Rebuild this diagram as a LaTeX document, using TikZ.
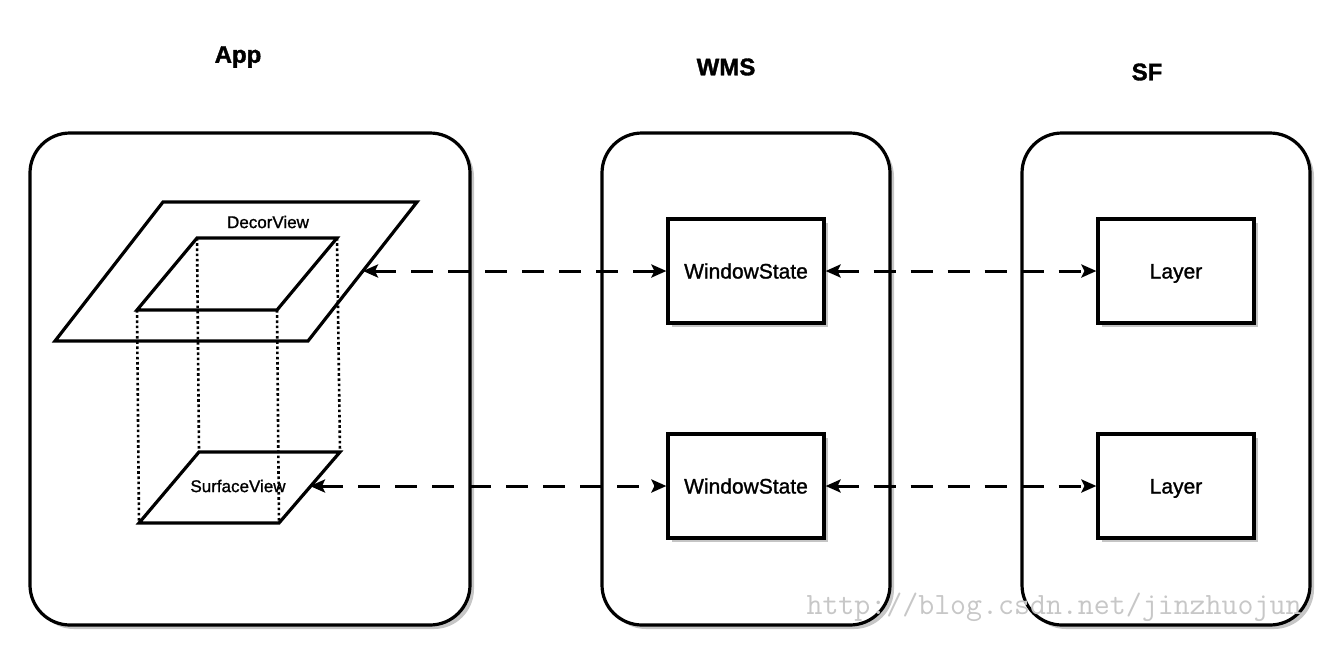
\documentclass[tikz,border=0pt]{standalone}
\usepackage{fontspec}
\setmainfont{Liberation Sans}
\newfontfamily\boxfont[FakeBold=1.2]{Liberation Sans}
\newfontfamily\titlefont[FakeBold=1.5]{Liberation Sans Bold}
\usetikzlibrary{arrows.meta,shadows}
\tikzset{
  container/.style={draw=black, line width=3.2pt, rounded corners=40pt, fill=white,
    drop shadow={shadow xshift=4pt, shadow yshift=-4pt, opacity=0.45, fill=gray}},
  statebox/.style={draw=black, line width=3.2pt, fill=white, minimum width=156pt, minimum height=104pt,
    inner sep=0pt, text height=15pt, text depth=0pt, font=\boxfont\fontsize{21}{24}\selectfont,
    drop shadow={shadow xshift=4pt, shadow yshift=-4pt, opacity=0.45, fill=gray}},
  title/.style={font=\titlefont\fontsize{24}{28}\selectfont},
  plane/.style={draw=black, line width=3.2pt, line join=miter},
  edgeline/.style={draw=black, line width=2.6pt, dash pattern=on 2.6pt off 2.6pt},
  conn/.style={line width=3pt, dash pattern=on 22pt off 15pt, {Stealth[length=15pt,width=13pt,inset=3pt]}-{Stealth[length=15pt,width=13pt,inset=3pt]}},
  lbl/.style={font=\boxfont\fontsize{17}{20}\selectfont, inner sep=0pt}
}
\begin{document}
\begin{tikzpicture}[x=1pt,y=-1pt]
\useasboundingbox (0,0) rectangle (1340,662);
% titles
\node[title] (tApp) at (238,57) {App};
\node[title] (tWMS) at (726,67) {WMS};
\node[title] (tSF) at (1147,72) {SF};
% containers
\node[container, minimum width=440pt, minimum height=492pt] (app) at (250,379) {};
\node[container, minimum width=288pt, minimum height=492pt] (wms) at (746,379) {};
\node[container, minimum width=288pt, minimum height=492pt] (sf) at (1166,379) {};
% DecorView plane (outer parallelogram)
\draw[plane] (163,202) -- (417,202) -- (308,341) -- (55,341) -- cycle;
% inner box top
\coordinate (itl) at (197,238);
\coordinate (itr) at (337,238);
\coordinate (ibr) at (277,310);
\coordinate (ibl) at (137,310);
% surface plane
\coordinate (stl) at (199,452);
\coordinate (str) at (340,452);
\coordinate (sbr) at (279,523);
\coordinate (sbl) at (139,523);
\draw[edgeline] (itl) -- (stl);
\draw[edgeline] (itr) -- (str);
\draw[edgeline] (ibr) -- (sbr);
\draw[edgeline] (ibl) -- (sbl);
\draw[plane] (itl) -- (itr) -- (ibr) -- (ibl) -- cycle;
\draw[plane] (stl) -- (str) -- (sbr) -- (sbl) -- cycle;
\node[lbl] (decor) at (268,222) {DecorView};
\node[lbl] (surface) at (238,486) {SurfaceView};
\coordinate (decorR) at (363,271);
\coordinate (surfR) at (310,486);
% state boxes
\node[statebox] (ws1) at (746,271) {WindowState};
\node[statebox] (ws2) at (746,486) {WindowState};
\node[statebox] (l1) at (1176,271) {Layer};
\node[statebox] (l2) at (1176,486) {Layer};
% connectors
\draw[conn] (decorR) -- (ws1.west);
\draw[conn] (surfR) -- (ws2.west);
\draw[conn] (ws1.east) -- (l1.west);
\draw[conn] (ws2.east) -- (l2.west);
% watermark
\node[text=black!22, font=\ttfamily\fontsize{31}{34}\selectfont, inner sep=0pt] (wm) at (1054,607) {http://blog.csdn.net/jinzhuojun};
\end{tikzpicture}
\end{document}
